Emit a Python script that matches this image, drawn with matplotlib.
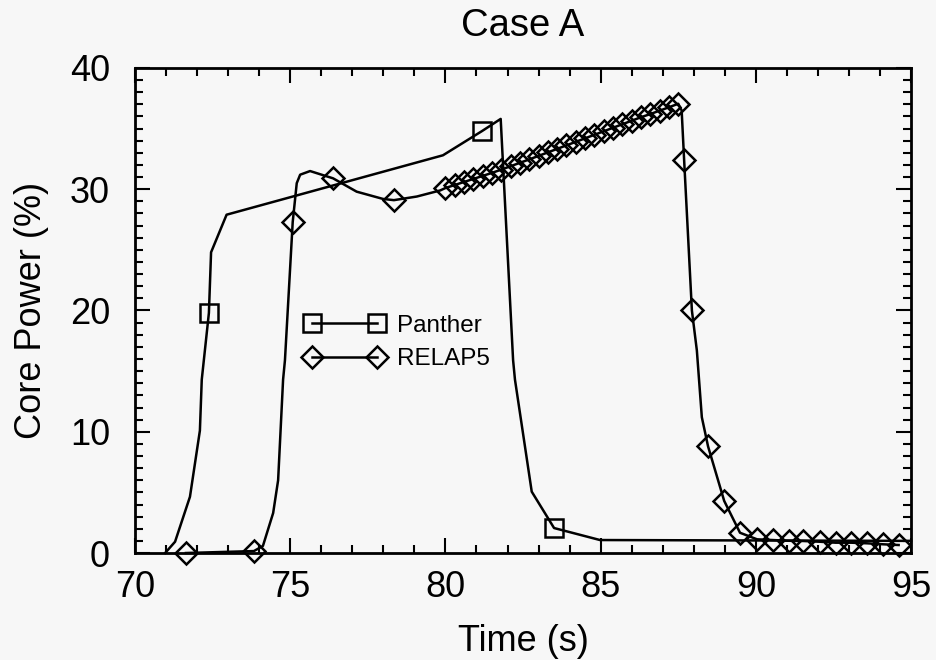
import matplotlib
matplotlib.use('Agg')
import matplotlib.pyplot as plt
from matplotlib.lines import Line2D
from matplotlib.ticker import MultipleLocator

# Panther curve (time s, core power %)
panther_t = [70.97, 71.29, 71.77, 72.09, 72.15, 72.38, 72.45, 72.95, 79.92,
             81.18, 81.78, 82.18, 82.24, 82.78, 83.5, 84.98, 95.0]
panther_p = [0.0, 0.93, 4.64, 10.1, 14.3, 19.8, 24.8, 27.9, 32.8,
             34.8, 35.8, 15.9, 14.3, 5.06, 2.06, 1.07, 1.0]
panther_mark_t = [72.38, 81.18, 83.5]
panther_mark_p = [19.8, 34.8, 2.06]

# RELAP5 curve
relap_t = [71.64, 73.83, 74.12, 74.45, 74.61, 74.77, 74.83, 75.08, 75.21,
           75.32, 75.64, 76.38, 77.14, 77.99, 78.34, 79.08, 79.83,
           80.0, 80.3, 80.6, 80.9, 81.2, 81.5, 81.8, 82.1, 82.4, 82.7,
           83.0, 83.3, 83.6, 83.9, 84.2, 84.5, 84.8, 85.1, 85.4, 85.7,
           86.0, 86.3, 86.6, 86.9, 87.2, 87.5,
           87.61, 87.69, 87.94, 88.1, 88.26, 88.46, 88.98, 89.49,
           90.04, 90.54, 91.06, 91.53, 92.06, 92.57, 93.08, 93.59, 94.1, 94.6]
relap_p = [0.0, 0.16, 0.58, 3.3, 6.0, 14.3, 15.9, 27.3, 30.5,
           31.2, 31.5, 30.9, 29.8, 29.2, 29.1, 29.4, 29.9,
           30.1, 30.35, 30.6, 30.85, 31.1, 31.35, 31.62, 31.9, 32.18, 32.46,
           32.75, 33.04, 33.33, 33.62, 33.91, 34.2, 34.49, 34.78, 35.07, 35.36,
           35.65, 35.94, 36.2, 36.48, 36.76, 37.05,
           36.5, 32.4, 20.0, 16.7, 11.2, 8.8, 4.3, 1.67,
           1.13, 1.07, 1.01, 0.99, 0.93, 0.85, 0.85, 0.8, 0.72, 0.66]
relap_mark_t = [71.64, 73.83, 75.08, 76.38, 78.34,
                80.0, 80.3, 80.6, 80.9, 81.2, 81.5, 81.8, 82.1, 82.4, 82.7,
                83.0, 83.3, 83.6, 83.9, 84.2, 84.5, 84.8, 85.1, 85.4, 85.7,
                86.0, 86.3, 86.6, 86.9, 87.2, 87.5,
                87.69, 87.94, 88.46, 88.98, 89.49,
                90.04, 90.54, 91.06, 91.53, 92.06, 92.57, 93.08, 93.59, 94.1, 94.6]
relap_mark_p = [0.0, 0.16, 27.3, 30.9, 29.1,
                30.1, 30.35, 30.6, 30.85, 31.1, 31.35, 31.62, 31.9, 32.18, 32.46,
                32.75, 33.04, 33.33, 33.62, 33.91, 34.2, 34.49, 34.78, 35.07, 35.36,
                35.65, 35.94, 36.2, 36.48, 36.76, 37.05,
                32.4, 20.0, 8.8, 4.3, 1.67,
                1.13, 1.07, 1.01, 0.99, 0.93, 0.85, 0.85, 0.8, 0.72, 0.66]

bg = '#f7f7f7'
plt.rcParams['font.family'] = ['Liberation Sans', 'DejaVu Sans']

fig = plt.figure(figsize=(9.37, 6.6), dpi=100, facecolor=bg)
ax = fig.add_axes([0.1441, 0.1621, 0.8282, 0.7349])
ax.set_facecolor(bg)

lw = 1.8
ax.plot(panther_t, panther_p, color='k', lw=lw, clip_on=False, zorder=3)
ax.plot(panther_mark_t, panther_mark_p, ls='none', marker='s', ms=13.5,
        mfc='none', mec='k', mew=lw, clip_on=False, zorder=4)
ax.plot(relap_t, relap_p, color='k', lw=lw, clip_on=False, zorder=3)
ax.plot(relap_mark_t, relap_mark_p, ls='none', marker='D', ms=11.5,
        mfc='none', mec='k', mew=lw, clip_on=False, zorder=4)

ax.set_xlim(70, 95)
ax.set_ylim(0, 40)
ax.xaxis.set_major_locator(MultipleLocator(5))
ax.xaxis.set_minor_locator(MultipleLocator(1))
ax.yaxis.set_major_locator(MultipleLocator(10))
ax.yaxis.set_minor_locator(MultipleLocator(1))
ax.tick_params(which='both', direction='in', top=True, right=True, width=1.5)
ax.tick_params(which='major', length=11)
ax.tick_params(which='minor', length=6)
ax.tick_params(axis='x', which='major', labelsize=26, pad=12)
ax.tick_params(axis='y', which='major', labelsize=26, pad=18)
for s in ax.spines.values():
    s.set_linewidth(2.0)

ax.set_xlabel('Time (s)', fontsize=26, labelpad=14)
ax.set_ylabel('Core Power (%)', fontsize=26, labelpad=15)
ax.set_title('Case A', fontsize=27.5, pad=23)

handles = [
    Line2D([], [], color='k', lw=lw, marker='s', ms=13.5, mfc='none', mew=lw),
    Line2D([], [], color='k', lw=lw, marker='D', ms=11.5, mfc='none', mew=lw),
]
ax.legend(handles, ['Panther', 'RELAP5'], numpoints=2, frameon=False,
          fontsize=17.5, loc='center left', bbox_to_anchor=(0.2183, 0.434),
          borderpad=0, borderaxespad=0, handlelength=3.27, handletextpad=0.53,
          labelspacing=0.48)

fig.savefig('out.png', dpi=100, facecolor=bg)
